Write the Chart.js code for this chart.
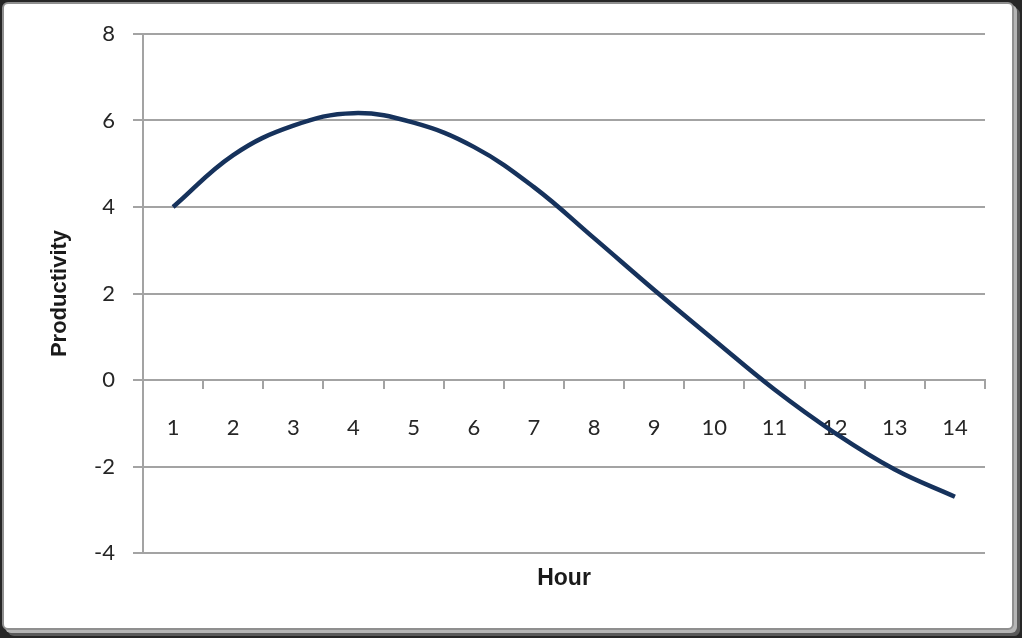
<!DOCTYPE html>
<html>
<head>
<meta charset="utf-8">
<script src="https://cdn.jsdelivr.net/npm/chart.js@4.4.1/dist/chart.umd.min.js"></script>
<style>
  html, body { margin: 0; padding: 0; }
  body { width: 1022px; height: 638px; background: #262626; position: relative; overflow: hidden; }
  .frame {
    position: absolute; left: 2px; top: 2px; width: 1008px; height: 624px;
    background: #fff; border: 2px solid #8f8f8f; border-radius: 6px;
    box-shadow: 3px 3px 0 #b5b5b5, 6px 6px 0 #5a5a5a;
  }
  .chart-box { position: absolute; left: 0; top: 0; width: 1022px; height: 638px; }
</style>
</head>
<body>
<div class="frame"></div>
<div class="chart-box"><canvas id="chart"></canvas></div>
<script>
// hours on the x axis
const hours = ['1', '2', '3', '4', '5', '6', '7', '8', '9', '10', '11', '12', '13', '14'];
// productivity
const productivity = [4.0, 5.2, 5.88, 6.17, 5.95, 5.39, 4.46, 3.28, 2.08, 0.92, -0.22, -1.22, -2.07, -2.7];
// y axis range
const yMin = -4;
const yMax = 8;
const yStep = 2;

const gridGrey = '#a3a3a3';
const textGrey = '#262626';

const ctx = document.getElementById('chart').getContext('2d');
new Chart(ctx, {
  type: 'line',
  data: {
    labels: hours,
    datasets: [{
      data: productivity,
      borderColor: '#16325c',
      borderWidth: 4.5,
      pointRadius: 0,
      tension: 0.4,
      fill: false
    }]
  },
  options: {
    responsive: true,
    maintainAspectRatio: false,
    animation: false,
    layout: { padding: { top: 34, right: 37, bottom: 0, left: 0 } },
    plugins: { legend: { display: false }, tooltip: { enabled: false } },
    scales: {
      x: {
        type: 'category',
        position: { y: 0 },
        offset: true,
        grid: {
          offset: true,
          drawOnChartArea: false,
          drawTicks: true,
          tickLength: 8,
          color: gridGrey,
          lineWidth: 2
        },
        border: { display: true, color: gridGrey, width: 2 },
        ticks: {
          padding: 27,
          color: textGrey,
          maxRotation: 0,
          font: { family: 'Lato', size: 22 }
        }
      },
      x2: {
        type: 'category',
        position: 'bottom',
        offset: true,
        labels: hours,
        grid: { display: false, drawTicks: false },
        border: { display: false },
        ticks: { display: false },
        title: {
          display: true,
          text: 'Hour',
          color: '#1a1a1a',
          font: { family: 'Liberation Sans', size: 23, weight: 'bold' },
          padding: { top: 0, bottom: 46 }
        },
        afterFit: (scale) => { scale.height = 85; }
      },
      y: {
        min: yMin,
        max: yMax,
        grid: {
          color: gridGrey,
          lineWidth: 2,
          drawTicks: true,
          tickLength: 10
        },
        border: { display: true, color: gridGrey, width: 2 },
        ticks: {
          stepSize: yStep,
          padding: 18,
          color: textGrey,
          font: { family: 'Lato', size: 22 }
        },
        title: {
          display: true,
          text: 'Productivity',
          color: '#1a1a1a',
          font: { family: 'Liberation Sans', size: 22, weight: 'bold' },
          padding: { top: 47, bottom: 0 }
        },
        afterFit: (scale) => { scale.width = 143; }
      }
    }
  }
});
</script>
</body>
</html>
